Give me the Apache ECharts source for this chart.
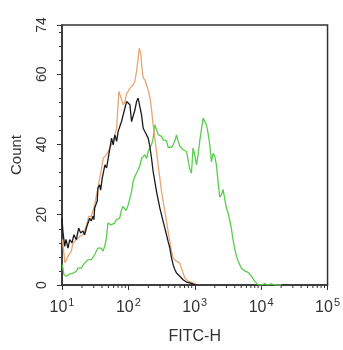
<!DOCTYPE html>
<html>
<head>
<meta charset="utf-8">
<script src="https://cdn.jsdelivr.net/npm/echarts@6/dist/echarts.min.js"></script>
<style>
  html, body { margin: 0; padding: 0; background: #fff; }
  #chart { width: 343px; height: 350px; }
</style>
</head>
<body>
<div id="chart"></div>
<script>
// Histogram traces: [log10(FITC-H), count]
const unstainedCounts = [
  [1.000,19],[1.015,15],[1.041,11],[1.060,13],[1.090,10.5],[1.116,12.9],[1.150,12],[1.180,14.3],
  [1.215,12.9],[1.251,16.2],[1.281,14.8],[1.316,15.4],[1.341,14.3],[1.361,13.9],[1.376,16.8],
  [1.417,19],[1.441,18.2],[1.466,19.6],[1.481,18.6],[1.492,21.9],[1.531,23.9],[1.541,27.6],
  [1.567,28.5],[1.582,27],[1.606,30.4],[1.617,30.4],[1.647,34.2],[1.672,33.3],[1.722,39],
  [1.747,41.8],[1.771,39.9],[1.797,42.7],[1.823,40.9],[1.847,43.8],[1.898,46.6],[1.922,48.4],
  [1.947,50.3],[1.973,52.2],[1.997,52.7],[2.023,51.3],[2.048,46.5],[2.072,46],[2.098,49.8],
  [2.123,52.2],[2.147,53.2],[2.173,52.7],[2.198,48.4],[2.223,44.6],[2.248,43.7],[2.274,43.5],
  [2.298,41.8],[2.323,39.5],[2.349,36],[2.373,32.3],[2.398,29.5],[2.424,26.6],[2.448,24.3],
  [2.474,21.9],[2.499,20],[2.523,18.1],[2.549,16.2],[2.574,14.3],[2.598,12.4],[2.624,10.5],
  [2.649,7.7],[2.674,5.8],[2.699,4.4],[2.725,3.4],[2.774,2.5],[2.824,1.5],[2.875,0.85],
  [2.925,0.6],[3.000,0.1],[3.075,0]
];

const isotypeCounts = [
  [1.005,13],[1.020,12.5],[1.045,6.3],[1.090,8.2],[1.116,7.7],[1.140,9.6],[1.165,11.9],[1.191,11.5],
  [1.215,12.9],[1.266,13.8],[1.316,14.3],[1.365,16.7],[1.402,19.5],[1.441,19.5],[1.466,19.2],
  [1.492,22.8],[1.516,25.2],[1.541,27.6],[1.567,30.4],[1.597,33.3],[1.621,36.1],[1.672,37.1],
  [1.722,39],[1.771,41],[1.823,44.6],[1.835,48.4],[1.857,55.1],[1.880,55.6],[1.922,51.3],
  [1.947,52.2],[1.973,54.5],[1.997,55.1],[2.023,56],[2.048,55.6],[2.072,57],[2.098,58],
  [2.123,60.8],[2.147,64.5],[2.165,67.4],[2.188,65.5],[2.203,62],[2.223,59],[2.248,58.4],
  [2.274,58.4],[2.298,55.5],[2.323,53.5],[2.349,50],[2.373,45.5],[2.398,41.8],[2.424,38],
  [2.448,34.2],[2.474,30.4],[2.499,26.6],[2.523,23.8],[2.549,21],[2.574,18.1],[2.598,15.3],
  [2.624,12.4],[2.649,9.6],[2.674,7.7],[2.725,6.7],[2.749,7.2],[2.774,6.3],[2.800,4.8],
  [2.824,3.4],[2.850,2],[2.899,1.1],[2.974,0.6],[3.026,0.1],[3.075,0]
];

const stainedCounts = [
  [1.005,5.8],[1.030,2.9],[1.065,2.5],[1.116,3.1],[1.165,3.4],[1.215,3.9],[1.241,4.8],[1.290,4.8],
  [1.341,6.3],[1.391,7.2],[1.417,7.7],[1.441,7.2],[1.492,8.6],[1.516,9.6],[1.541,10.5],[1.567,10],
  [1.591,10.5],[1.617,9.6],[1.642,11],[1.666,12.9],[1.692,17.6],[1.717,18.1],[1.741,17.1],
  [1.792,17.6],[1.817,18.6],[1.842,18.2],[1.868,19],[1.892,21],[1.917,22.4],[1.943,22.4],
  [1.967,21.2],[1.997,22.8],[2.048,26.6],[2.072,29.5],[2.098,30.9],[2.123,31.4],[2.147,32.8],
  [2.173,34],[2.198,36],[2.223,36.5],[2.248,37.1],[2.274,36],[2.298,38],[2.323,39],[2.349,39.9],
  [2.373,41.8],[2.398,45.6],[2.424,45.5],[2.448,42.8],[2.474,42.7],[2.499,42.3],[2.523,41.3],
  [2.574,41],[2.598,39.2],[2.624,39.4],[2.649,39.2],[2.674,39.9],[2.699,41],[2.725,42.7],
  [2.749,41],[2.774,39.5],[2.800,39],[2.824,38.5],[2.850,38.8],[2.875,38],[2.899,35.6],
  [2.925,33],[2.950,31.8],[2.974,39],[3.000,37],[3.026,34.2],[3.050,37],[3.075,41],[3.100,44.2],
  [3.126,47.5],[3.150,47],[3.176,45.6],[3.200,43.2],[3.226,40],[3.251,35],[3.275,37.5],
  [3.301,36.6],[3.326,34.2],[3.350,29.5],[3.376,25],[3.401,25.6],[3.426,27.2],[3.451,24.5],
  [3.477,21.9],[3.501,20.5],[3.526,18.5],[3.552,16],[3.576,13],[3.602,10.3],[3.627,8.3],
  [3.651,6.9],[3.677,5.8],[3.702,4.8],[3.752,4],[3.802,3.6],[3.853,2.5],[3.877,2],[3.902,1.1],
  [3.953,0.1],[4.003,0],[4.053,0.4],[4.098,0],[4.153,0.3],[4.203,0],[4.304,0]
];

// Decade exponents shown on the FITC-H axis, and labelled count values
const decadeExponents = [1, 2, 3, 4, 5];
const countLabels = [0, 20, 40, 60, 74];

// Log-scale minor tick positions (2..9 within each decade)
const minorTickLogs = [];
for (let d = decadeExponents[0]; d < decadeExponents[decadeExponents.length - 1]; d++) {
  for (let k = 2; k <= 9; k++) minorTickLogs.push([d + Math.log10(k), 0]);
}

const axisColor = '#333';
const textColor = '#333';
const fontFamily = 'Liberation Sans, Arial, sans-serif';

const chart = echarts.init(document.getElementById('chart'), null, { renderer: 'canvas' });

chart.setOption({
  animation: false,
  backgroundColor: '#fff',
  grid: {
    left: 62, right: 15, top: 25, bottom: 62,
    show: true, borderColor: axisColor, borderWidth: 1.5,
    backgroundColor: 'transparent',
    containLabel: false
  },
  xAxis: {
    type: 'value', min: 1, max: 5, interval: 1,
    axisLine: { show: true, lineStyle: { color: axisColor, width: 1.5 } },
    axisTick: { show: true, length: 5, lineStyle: { color: axisColor, width: 1 } },
    splitLine: { show: false },
    axisLabel: {
      margin: 12,
      fontFamily,
      formatter: v => '{b|10}{s|' + v + '}',
      rich: {
        b: { fontSize: 16, color: textColor, fontFamily, verticalAlign: 'bottom' },
        s: { fontSize: 11, color: textColor, fontFamily, verticalAlign: 'bottom', padding: [0, 0, 8, 1] }
      }
    },
    name: 'FITC-H', nameLocation: 'middle', nameGap: 44,
    nameTextStyle: { fontSize: 16, color: textColor, fontFamily }
  },
  yAxis: [
    {
      type: 'value', min: 0, max: 74, interval: 4,
      axisLine: { show: true, lineStyle: { color: axisColor, width: 1.5 } },
      axisTick: { show: true, length: 3, lineStyle: { color: axisColor, width: 1 } },
      splitLine: { show: false },
      axisLabel: {
        rotate: 90, margin: 13, fontSize: 14, color: textColor, fontFamily,
        formatter: v => (countLabels.indexOf(v) >= 0 ? String(v) : '')
      },
      name: 'Count', nameLocation: 'middle', nameGap: 38, nameRotate: 90,
      nameTextStyle: { fontSize: 15, color: textColor, fontFamily }
    },
    {
      type: 'value', min: 0, max: 74, interval: 20, position: 'left',
      axisLine: { show: false },
      axisTick: { show: true, length: 5, lineStyle: { color: axisColor, width: 1 } },
      axisLabel: { show: false },
      splitLine: { show: false }
    }
  ],
  series: [
    {
      type: 'custom', silent: true, clip: false,
      data: minorTickLogs,
      renderItem: (params, api) => {
        const p = api.coord([api.value(0), 0]);
        return {
          type: 'line',
          shape: { x1: p[0], y1: p[1], x2: p[0], y2: p[1] + 3 },
          style: { stroke: axisColor, lineWidth: 1 }
        };
      }
    },
    {
      name: 'stained', type: 'line', data: stainedCounts, showSymbol: false,
      lineStyle: { color: '#5ACD4E', width: 1.3 }, z: 2
    },
    {
      name: 'isotype', type: 'line', data: isotypeCounts, showSymbol: false,
      lineStyle: { color: '#E8A672', width: 1.3 }, z: 3
    },
    {
      name: 'unstained', type: 'line', data: unstainedCounts, showSymbol: false,
      lineStyle: { color: '#1A1A1A', width: 1.3 }, z: 4
    }
  ]
});
</script>
</body>
</html>
